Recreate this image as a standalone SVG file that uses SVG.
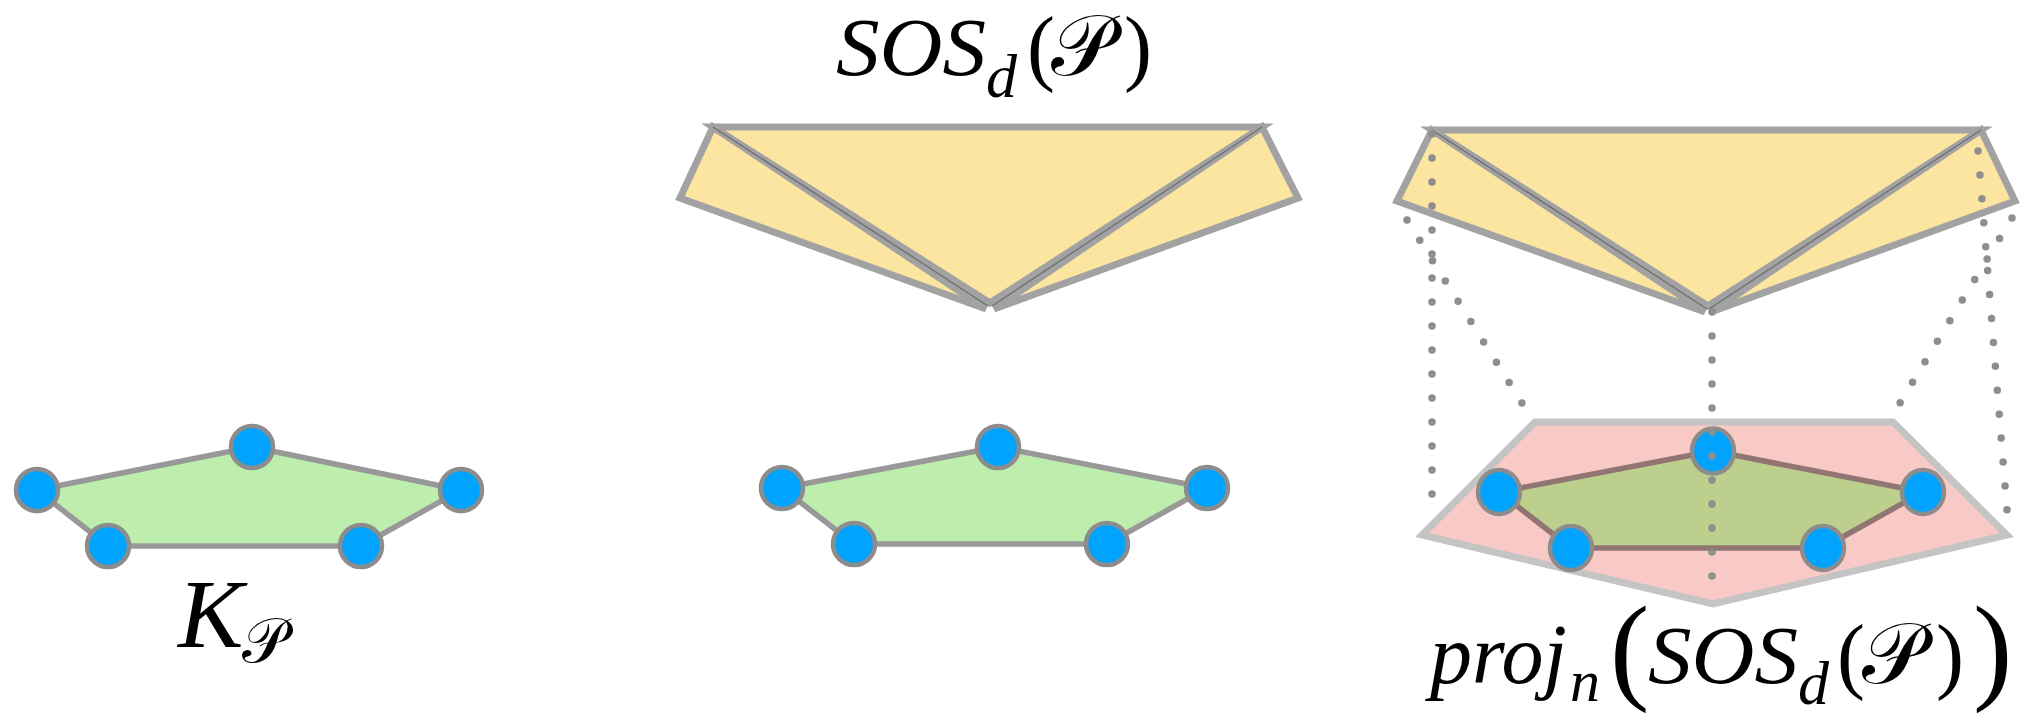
<svg xmlns="http://www.w3.org/2000/svg" width="2020" height="713" viewBox="0 0 2020 713">
<style>
.yel{fill:#fbe5a0;stroke:#a2a2a2;stroke-width:7;stroke-linejoin:miter}
.crease{stroke:#6e6e6e;stroke-width:1.3;fill:none}
.kg{fill:#bdeeae;stroke:#989898;stroke-width:5.5;stroke-linejoin:round}
.kp{fill:#bdcf8c;stroke:#907573;stroke-width:5.5;stroke-linejoin:round}
.node{fill:#00a4ff;stroke:#8c8c8c;stroke-width:4.5}
.proj{fill:#f9c9c5;stroke:#c4c4c4;stroke-width:7;stroke-linejoin:miter}
.dot{fill:none;stroke:#8e8e8e;stroke-width:7.5;stroke-linecap:round;stroke-dasharray:0 24}
</style>

<g id="sos-middle">
<polygon class="yel" points="713,127 680,198 986,309"/>
<polygon class="yel" points="1262,127 1298,198 994,309"/>
<polygon class="yel" points="713,127 1262,127 990,303"/>
<line class="crease" x1="713" y1="127" x2="988" y2="306"/>
<line class="crease" x1="1262" y1="127" x2="992" y2="306"/>
</g>

<g id="sos-right">
<polygon class="yel" points="1432,130 1397,201 1705,312"/>
<polygon class="yel" points="1981,130 2015,201 1711,312"/>
<polygon class="yel" points="1432,130 1981,130 1708,306"/>
<line class="crease" x1="1432" y1="130" x2="1707" y2="309"/>
<line class="crease" x1="1981" y1="130" x2="1709" y2="309"/>
</g>

<g id="projection">
<polygon class="proj" points="1535,422 1893,422 2007,535 1713,604 1422,535"/>
</g>

<g id="k-left">
<polygon class="kg" points="37,490 252,447 461,490 361,546 108,546"/>
<circle class="node" cx="37" cy="490" r="21"/>
<circle class="node" cx="252" cy="447" r="21"/>
<circle class="node" cx="461" cy="490" r="21"/>
<circle class="node" cx="361" cy="546" r="21"/>
<circle class="node" cx="108" cy="546" r="21"/>
</g>

<g id="k-middle">
<polygon class="kg" points="782,488 998,447 1207,488 1107,544 854,544"/>
<circle class="node" cx="782" cy="488" r="21"/>
<circle class="node" cx="998" cy="447" r="21"/>
<circle class="node" cx="1207" cy="488" r="21"/>
<circle class="node" cx="1107" cy="544" r="21"/>
<circle class="node" cx="854" cy="544" r="21"/>
</g>

<g id="k-right">
<polygon class="kp" points="1499,492 1713,451 1923,492 1823,548 1571,548"/>
<ellipse class="node" cx="1499" cy="492" rx="21" ry="22"/>
<ellipse class="node" cx="1713" cy="451" rx="21" ry="22.5"/>
<ellipse class="node" cx="1923" cy="492" rx="21" ry="22"/>
<ellipse class="node" cx="1823" cy="548" rx="21" ry="22"/>
<ellipse class="node" cx="1571" cy="548" rx="21" ry="22"/>
</g>

<g id="connectors">
<line class="dot" x1="1432" y1="134" x2="1432" y2="518"/>
<line class="dot" x1="1407" y1="220" x2="1522" y2="403"/>
<line class="dot" x1="1712" y1="312" x2="1712" y2="600"/>
<line class="dot" x1="1978" y1="151" x2="2007" y2="510"/>
<line class="dot" x1="2012" y1="218" x2="1900" y2="403"/>
</g>

<g id="label-k" font-family="Liberation Serif, serif" fill="#000">
<text x="178" y="647" font-size="98" font-style="italic">K</text>
<text x="242" y="662" font-size="62">𝒫</text>
</g>

<g id="label-sos" font-family="Liberation Serif, serif" fill="#000">
<text x="836" y="75" font-size="82" font-style="italic" textLength="150" lengthAdjust="spacingAndGlyphs">SOS</text>
<text x="986" y="97" font-size="62" font-style="italic">d</text>
<text x="1027" y="75" font-size="84">(</text>
<text x="1051" y="75" font-size="86">𝒫</text>
<text x="1124" y="75" font-size="84">)</text>
</g>

<g id="label-proj" font-family="Liberation Serif, serif" fill="#000">
<text x="1430" y="683" font-size="84" font-style="italic">proj</text>
<text x="1570" y="701" font-size="60" font-style="italic">n</text>
<text x="1610" y="688" font-size="118">(</text>
<text x="1648" y="683" font-size="82" font-style="italic" textLength="150" lengthAdjust="spacingAndGlyphs">SOS</text>
<text x="1798" y="704" font-size="62" font-style="italic">d</text>
<text x="1837" y="683" font-size="84">(</text>
<text x="1862" y="683" font-size="86">𝒫</text>
<text x="1936" y="683" font-size="84">)</text>
<text x="1973" y="688" font-size="118">)</text>
</g>
</svg>
